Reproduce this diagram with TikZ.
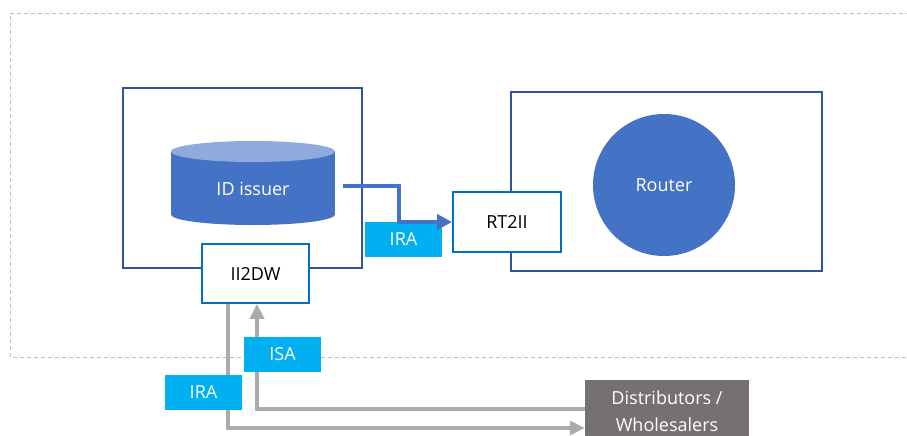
\documentclass[tikz,border=0pt]{standalone}
\usepackage{fontspec}
\setmainfont{Open Sans}
\usetikzlibrary{arrows.meta,positioning}
\definecolor{DB}{RGB}{47,85,151}
\definecolor{MB}{RGB}{68,114,196}
\definecolor{LB}{RGB}{143,170,220}
\definecolor{SB}{RGB}{0,112,192}
\definecolor{CY}{RGB}{0,176,240}
\definecolor{GR}{RGB}{174,170,170}
\definecolor{DG}{RGB}{118,113,113}
\definecolor{FR}{RGB}{191,191,191}

\begin{document}
\begin{tikzpicture}[x=1pt,y=-1pt,font=\fontsize{18}{21}\selectfont,
    zona/.style={draw=DB,line width=2pt,fill=white},
    caja/.style={draw=SB,line width=1.8pt,fill=white,minimum width=107pt,minimum height=59pt},
    etiq/.style={fill=CY,text=white,minimum width=77pt,minimum height=35pt},
    flujo/.style={draw=MB,line width=4.5pt,-{Triangle[length=15pt,width=15pt]}},
    gris/.style={draw=GR,line width=4pt,-{Triangle[length=15pt,width=14pt]}}]
    \useasboundingbox (0,0) rectangle (907,436);

    %Marco punteado
    \draw[FR,line width=0.8pt,dash pattern=on 4pt off 3pt] (910,13) -- (10.5,13) -- (10.5,357) -- (910,357);

    %Zonas
    \node[zona,minimum width=239pt,minimum height=180pt] (izq) at (242.5,178) {};
    \node[zona,minimum width=311pt,minimum height=179pt] (der) at (666.5,181.5) {};

    %Cilindro del emisor
    \fill[MB] (171,151.5) rectangle (335,214.5);
    \fill[MB] (253,214.5) ellipse (82 and 10.5);
    \fill[LB] (253,151.5) ellipse (82 and 10.5);
    \node[text=white] (issuer) at (253,189) {ID issuer};
    \coordinate (salida) at (343,186);

    %Router
    \node[circle,fill=MB,text=white,minimum size=142pt] (router) at (664,185) {Router};

    %Cajas de interfaz
    \node[caja,minimum width=108pt,minimum height=60pt] (rt) at (507,222) {RT2II};
    \node[caja] (ii) at (255.5,273.5) {II2DW};
    \node[fill=DG,text=white,align=center,minimum width=164pt,minimum height=62pt,
          font=\fontsize{18}{27}\selectfont] (dist) at (667,411) {Distributors /\\Wholesalers};

    %Flujo superior
    \node[etiq] (ira1) at (403.5,239.5) {IRA};
    \draw[flujo] (salida) -- ++(56,0) |- (rt.west);

    %Flujos inferiores
    \draw[gris] ([xshift=-27.5pt]ii.south) |- ([yshift=-17pt]dist.west);
    \draw[gris] ([yshift=2pt]dist.west) -| ([xshift=1.5pt]ii.south);
    \node[etiq] (isa) at (282.5,354.5) {ISA};
    \node[etiq] (ira2) at (203.5,392) {IRA};
\end{tikzpicture}
\end{document}
